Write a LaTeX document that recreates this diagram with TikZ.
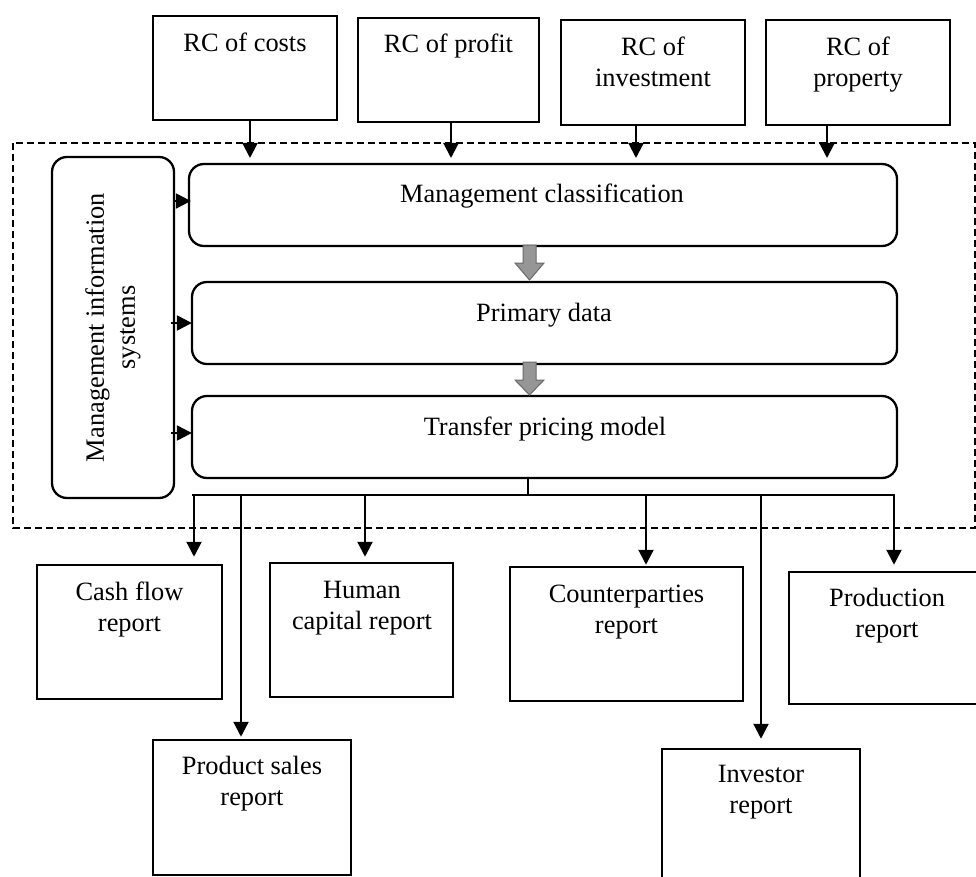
\documentclass[tikz,border=0pt]{standalone}
\usepackage{fontspec}
\setmainfont{Liberation Serif}
\usetikzlibrary{arrows.meta,calc}
\definecolor{arrfill}{RGB}{150,150,150}
\definecolor{arredge}{RGB}{105,105,105}
\begin{document}
\begin{tikzpicture}[x=1pt,y=-1pt,
  box/.style={draw, line width=2.5pt, inner sep=0pt},
  rbox/.style={draw, line width=2.3pt, rounded corners=15pt, inner sep=0pt},
  txt/.style={font=\fontsize{26.4pt}{31pt}\selectfont, align=center, inner sep=0pt},
  arr/.style={line width=2.2pt, -{Triangle[length=15pt,width=15pt]}},
  busline/.style={line width=1.4pt},
  dashframe/.style={draw, line width=1.1pt, dash pattern=on 7pt off 4pt},
  grayarrow/.style={fill=arrfill, draw=arredge, line width=1pt}]
\useasboundingbox (0,0) rectangle (976,877);

% dashed frame
\draw[dashframe] (13,143) rectangle (975,528);

% top boxes
\node[box, minimum width=184pt, minimum height=104pt] (costs) at (245,68) {};
\node[box, minimum width=181pt, minimum height=104pt] (profit) at (448.5,70) {};
\node[box, minimum width=184pt, minimum height=105pt] (invest) at (653,72.5) {};
\node[box, minimum width=184pt, minimum height=105pt] (property) at (858,72.5) {};
\node[txt, anchor=base] (tcosts) at (245,52) {RC of costs};
\node[txt, anchor=base] (tprofit) at (448.5,53) {RC of profit};
\node[txt, anchor=base] (tinvest) at (653,87) {RC of\\investment};
\node[txt, anchor=base] (tproperty) at (858,87) {RC of\\property};

% management information systems
\node[rbox, minimum width=122pt, minimum height=341pt] (mis) at (113,327.5) {};
\node[txt, rotate=90] (tmis) at (113,327.5) {Management information\\systems};

% central boxes
\node[rbox, minimum width=708pt, minimum height=82pt] (mc) at (543,205) {};
\node[rbox, minimum width=705pt, minimum height=82pt] (pd) at (544.5,323) {};
\node[rbox, minimum width=705pt, minimum height=82pt] (tpm) at (544.5,437) {};
\node[txt, anchor=base] (tmc) at (542,203) {Management classification};
\node[txt, anchor=base] (tpd) at (544,321) {Primary data};
\node[txt, anchor=base] (ttpm) at (545,435) {Transfer pricing model};

% bottom boxes
\node[box, minimum width=185pt, minimum height=134pt] (cash) at (129.5,632) {};
\node[box, minimum width=183pt, minimum height=134pt] (human) at (361.5,630) {};
\node[box, minimum width=233pt, minimum height=134pt] (counter) at (626.5,634) {};
\node[box, minimum width=196pt, minimum height=132pt] (production) at (887,638) {};
\node[box, minimum width=198pt, minimum height=135pt] (sales) at (252,807.5) {};
\node[box, minimum width=198pt, minimum height=136pt] (investor) at (761,817) {};
\node[txt, anchor=base] (tcash) at (129.5,631) {Cash flow\\report};
\node[txt, anchor=base] (thuman) at (362,629) {Human\\capital report};
\node[txt, anchor=base] (tcounter) at (626.5,633) {Counterparties\\report};
\node[txt, anchor=base] (tproduction) at (887,637) {Production\\report};
\node[txt, anchor=base] (tsales) at (252,805) {Product sales\\report};
\node[txt, anchor=base] (tinvestor) at (761,813) {Investor\\report};

% arrows from top boxes
\coordinate (a1) at (250,158);
\coordinate (a2) at (451,158);
\coordinate (a3) at (636,158);
\coordinate (a4) at (827,158);
\draw[arr] (costs.south -| a1) -- (a1);
\draw[arr] (profit.south -| a2) -- (a2);
\draw[arr] (invest.south -| a3) -- (a3);
\draw[arr] (property.south -| a4) -- (a4);

% arrows from MIS
\coordinate (m1) at (0,201);
\coordinate (m2) at (0,323);
\coordinate (m3) at (0,433);
\draw[arr] (mis.east |- m1) -- ([xshift=3pt]mc.west |- m1);
\draw[arr] ([xshift=-4pt]mis.east |- m2) -- ([xshift=1pt]pd.west |- m2);
\draw[arr] ([xshift=-4pt]mis.east |- m3) -- ([xshift=1pt]tpm.west |- m3);

% gray block arrows
\draw[grayarrow] (523,245) -- (536,245) -- (536,263) -- (544,263) -- (529.5,280) -- (515,263) -- (523,263) -- cycle;
\draw[grayarrow] (523,362) -- (536,362) -- (536,380) -- (544,380) -- (529.5,395) -- (515,380) -- (523,380) -- cycle;

% distribution bus
\coordinate (stub) at (528,495);
\coordinate (busL) at (192,495);
\coordinate (busR) at (895,495);
\draw[busline] (tpm.south -| stub) -- (stub);
\draw[busline] (busL) -- (busR);

\coordinate (d1) at (194,495);
\coordinate (d2) at (241,495);
\coordinate (d3) at (365,495);
\coordinate (d4) at (646,495);
\coordinate (d5) at (761,495);
\coordinate (d6) at (894,495);
\draw[arr] (d1) -- ([yshift=7pt]cash.north -| d1);
\draw[arr] (d2) -- ([yshift=2pt]sales.north -| d2);
\draw[arr] (d3) -- ([yshift=5pt]human.north -| d3);
\draw[arr] (d4) -- ([yshift=1pt]counter.north -| d4);
\draw[arr] (d5) -- ([yshift=9pt]investor.north -| d5);
\draw[arr] (d6) -- ([yshift=6pt]production.north -| d6);
\end{tikzpicture}
\end{document}
